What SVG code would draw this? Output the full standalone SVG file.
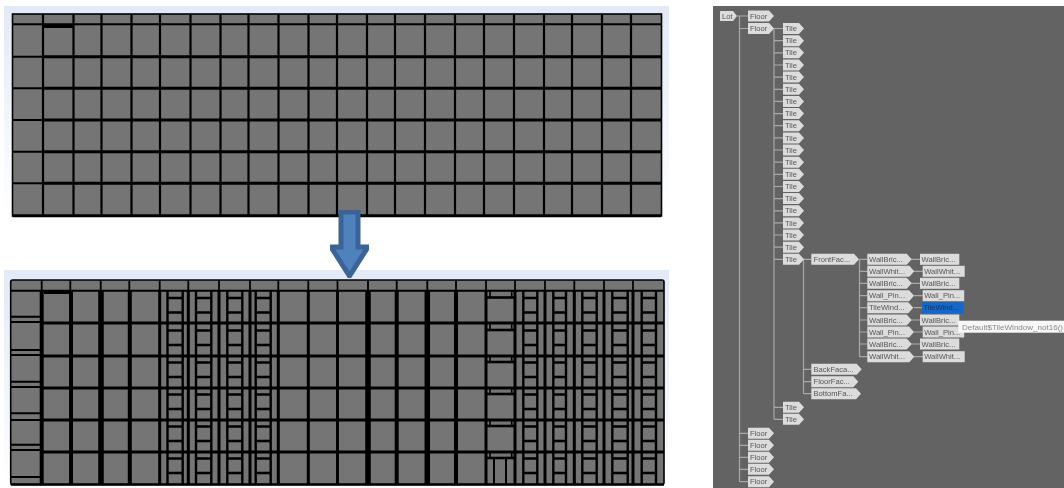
<svg xmlns="http://www.w3.org/2000/svg" width="1064" height="488" viewBox="0 0 1064 488">
<style>
.g{fill:#757575}
.l{fill:none;stroke:#000}
.tag{fill:#dcdcdc}
.t{font:7.6px "Liberation Sans",Arial,sans-serif;fill:#555}
.c{fill:none;stroke:#a8a8a8;stroke-width:1.2}
</style>
<defs>
<linearGradient id="pg" x1="0" y1="0" x2="0" y2="1"><stop offset="0" stop-color="#e2eaf7"/><stop offset="1" stop-color="#fff"/></linearGradient>
<filter id="b5" x="-2%" y="-2%" width="104%" height="104%"><feGaussianBlur stdDeviation="0.6"/></filter>
<filter id="b3" x="-2%" y="-2%" width="104%" height="104%"><feGaussianBlur stdDeviation="0.4"/></filter>
<path id="wr" class="l" stroke-width="2.4" d="M167 7.5h16M167 22h16M196 7.5h15M196 22h15M227 7.5h15M227 22h15M255.5 7.5h15M255.5 22h15M523 7.5h14M523 22h14M553 7.5h13M553 22h13M582 7.5h15M582 22h15M612 7.5h16M612 22h16M641.5 7.5h14.5M641.5 22h14.5"/>
<path id="dr" class="l" stroke-width="1.6" d="M490 0v6M511.7 0v6"/>
<path id="dr2" class="l" stroke-width="2.6" d="M487 7h28"/>
</defs>
<rect width="1064" height="488" fill="#fff"/>
<rect x="4" y="6" width="665" height="210" fill="url(#pg)"/>
<rect x="4" y="270" width="665" height="216" fill="url(#pg)"/>
<g id="grid-top" filter="url(#b5)">
<rect class="g" x="12.5" y="14" width="649" height="202"/>
<path class="l" stroke-width="2.2" d="M43 14V216M73.5 14V216M101.5 14V216M131.5 14V216M160 14V216M190.5 14V216M220.5 14V216M248.5 14V216M278.5 14V216M308.5 14V216M337 14V216M367 14V216M395 14V216M425 14V216M455 14V216M484 14V216M514 14V216M544 14V216M572 14V216M602 14V216M631 14V216"/>
<path class="l" stroke-width="2" d="M12.5 24.3H661M12.5 56.7H43M12.5 88.3H43M12.5 120H43M12.5 151.7H43M12.5 183.3H43"/>
<path class="l" stroke-width="3" d="M43 56.7H661M43 88.3H661M43 120H661M43 151.7H661M43 183.3H661M43 26.5H73"/>
<rect class="l" x="12.5" y="14" width="649" height="202" stroke-width="1.6"/>
<path class="l" stroke-width="3" d="M12.5 215.7H661"/>
</g>
<g id="grid-bottom" filter="url(#b5)">
<rect class="g" x="10.7" y="280" width="653.3" height="204.5" rx="2"/>
<path class="l" stroke-width="1.8" d="M41.7 280V291M70.3 280V291M100.7 280V291M129.3 280V291M159.7 280V291M188.3 280V291M219 280V291M250 280V291M278.3 280V291M308.3 280V291M337.5 280V291M368 280V291M396.7 280V291M427.3 280V291M456 280V291M486 280V291M515 280V291M545 280V291M574.3 280V291M604 280V291M633 280V291"/>
<path class="l" stroke-width="2" d="M10.7 290.7H664"/>
<path class="l" stroke-width="3.2" d="M41.7 323H664M41.7 356H664M41.7 388H664M41.7 420H664M41.7 452H664"/>
<path class="l" stroke-width="2" d="M10.7 322H42M10.7 355H42M10.7 387H42M10.7 420H42M10.7 450H42M10.7 316.7H42M10.7 350H42M10.7 381.7H42M10.7 413.3H42M10.7 444.7H42M10.7 477H42"/>
<path class="l" stroke-width="4" d="M41.7 290V484M71 290V484M129.8 290V484M396.7 290V484M456 290V484"/>
<path class="l" stroke-width="5.5" d="M101 290V484M368 290V484M427.3 290V484"/>
<path class="l" stroke-width="3" d="M159.7 290V484M188.3 290V484M219 290V484M250 290V484M278.3 290V484M308.3 290V484M337.5 290V484M486 290V484M515 290V484M545 290V484M574.3 290V484M604 290V484M633 290V484"/>
<path class="l" stroke-width="2.4" d="M167.5 290V484M182.7 290V484M196 290V484M211.3 290V484M227.3 290V484M242.3 290V484M255.7 290V484M270.7 290V484M523.3 290V484M537.3 290V484M553.3 290V484M566 290V484M582.3 290V484M596.7 290V484M612.3 290V484M627.7 290V484M641.7 290V484M656 290V484"/>
<use href="#wr" y="290.5"/><use href="#wr" y="323"/><use href="#wr" y="355"/><use href="#wr" y="387"/><use href="#wr" y="419"/><use href="#wr" y="451"/>
<use href="#dr" y="291"/><use href="#dr" y="324"/><use href="#dr" y="356"/><use href="#dr" y="388"/><use href="#dr" y="420"/><use href="#dr" y="452"/>
<use href="#dr2" y="290.5"/><use href="#dr2" y="323"/><use href="#dr2" y="355"/><use href="#dr2" y="387"/><use href="#dr2" y="419"/><use href="#dr2" y="451"/>
<path class="l" stroke-width="2" d="M494 459V484M506 459V484"/>
<path class="l" stroke-width="3" d="M44 292.5H70"/>
<rect class="l" x="10.7" y="280" width="653.3" height="204.5" rx="2" stroke-width="1.6"/>
<path class="l" stroke-width="2.6" d="M10.7 484.5H664"/>
</g>
<g id="arrow" filter="url(#b3)"><polygon points="341,212 358,212 358,247 368,247 349.5,276 331,247 341,247" fill="#4f81bd" stroke="#3b6497" stroke-width="5" stroke-linejoin="miter"/></g>
<rect x="713" y="6" width="351" height="482" fill="#636363"/>
<g filter="url(#b3)">
<g id="connectors">
<path class="c" d="M737 16h11M739.5 16V481.7M739.5 28.5H748M739.5 433.3H748M739.5 445.3H748M739.5 457.3H748M739.5 469.3H748M739.5 481.7H748"/>
<path class="c" d="M774 28.5V419.3M774 28.5h9M774 40.7h9M774 52.8h9M774 65h9M774 77.1h9M774 89.3h9M774 101.4h9M774 113.6h9M774 125.7h9M774 137.9h9M774 150h9M774 162.2h9M774 174.3h9M774 186.5h9M774 198.6h9M774 210.8h9M774 222.9h9M774 235h9M774 247.2h9M774 259.3h9M774 407.3h9M774 419.3h9"/>
<path class="c" d="M803.5 259.3h8M803.5 259.3V393.7M803.5 369.3h8M803.5 381.7h8M803.5 393.7h8"/>
<path class="c" d="M859.5 259.3h8M859.5 259.3V356.7M859.5 271.3h8M859.5 283.3h8M859.5 295.7h8M859.5 307.7h8M859.5 320h8M859.5 332h8M859.5 344h8M859.5 356.7h8"/>
<path class="c" d="M911 259.3h9M914 271.3h9M911 283.3h9M914 295.7h9M914 307.7h9M911 320h9M914 332h9M911 344h9M914 356.7h9"/>
</g>
<g id="lot"><path class="tag" d="M720 11h13l4 5l-4 5h-13z"/><text class="t" x="722" y="18.6">Lot</text></g>
<g id="floor1"><path class="tag" d="M748 10.5h21l5 5.5l-5 5.5h-21z"/><text class="t" x="750" y="18.6">Floor</text></g>
<g id="floor2"><path class="tag" d="M748 23h21l5 5.5l-5 5.5h-21z"/><text class="t" x="750" y="31.1">Floor</text></g>
<g id="floor3"><path class="tag" d="M748 427.8h21l5 5.5l-5 5.5h-21z"/><text class="t" x="750" y="435.9">Floor</text></g>
<g id="floor4"><path class="tag" d="M748 439.8h21l5 5.5l-5 5.5h-21z"/><text class="t" x="750" y="447.9">Floor</text></g>
<g id="floor5"><path class="tag" d="M748 451.8h21l5 5.5l-5 5.5h-21z"/><text class="t" x="750" y="459.9">Floor</text></g>
<g id="floor6"><path class="tag" d="M748 463.8h21l5 5.5l-5 5.5h-21z"/><text class="t" x="750" y="471.9">Floor</text></g>
<g id="floor7"><path class="tag" d="M748 476.2h21l5 5.5l-5 5.5h-21z"/><text class="t" x="750" y="484.3">Floor</text></g>
<g id="tile1"><path class="tag" d="M783 23h16l5 5.5l-5 5.5h-16z"/><text class="t" x="785" y="31.1">Tile</text></g>
<g id="tile2"><path class="tag" d="M783 35.2h16l5 5.5l-5 5.5h-16z"/><text class="t" x="785" y="43.3">Tile</text></g>
<g id="tile3"><path class="tag" d="M783 47.3h16l5 5.5l-5 5.5h-16z"/><text class="t" x="785" y="55.4">Tile</text></g>
<g id="tile4"><path class="tag" d="M783 59.5h16l5 5.5l-5 5.5h-16z"/><text class="t" x="785" y="67.6">Tile</text></g>
<g id="tile5"><path class="tag" d="M783 71.6h16l5 5.5l-5 5.5h-16z"/><text class="t" x="785" y="79.7">Tile</text></g>
<g id="tile6"><path class="tag" d="M783 83.8h16l5 5.5l-5 5.5h-16z"/><text class="t" x="785" y="91.9">Tile</text></g>
<g id="tile7"><path class="tag" d="M783 95.9h16l5 5.5l-5 5.5h-16z"/><text class="t" x="785" y="104">Tile</text></g>
<g id="tile8"><path class="tag" d="M783 108.1h16l5 5.5l-5 5.5h-16z"/><text class="t" x="785" y="116.2">Tile</text></g>
<g id="tile9"><path class="tag" d="M783 120.2h16l5 5.5l-5 5.5h-16z"/><text class="t" x="785" y="128.3">Tile</text></g>
<g id="tile10"><path class="tag" d="M783 132.4h16l5 5.5l-5 5.5h-16z"/><text class="t" x="785" y="140.5">Tile</text></g>
<g id="tile11"><path class="tag" d="M783 144.5h16l5 5.5l-5 5.5h-16z"/><text class="t" x="785" y="152.6">Tile</text></g>
<g id="tile12"><path class="tag" d="M783 156.7h16l5 5.5l-5 5.5h-16z"/><text class="t" x="785" y="164.8">Tile</text></g>
<g id="tile13"><path class="tag" d="M783 168.8h16l5 5.5l-5 5.5h-16z"/><text class="t" x="785" y="176.9">Tile</text></g>
<g id="tile14"><path class="tag" d="M783 181h16l5 5.5l-5 5.5h-16z"/><text class="t" x="785" y="189.1">Tile</text></g>
<g id="tile15"><path class="tag" d="M783 193.1h16l5 5.5l-5 5.5h-16z"/><text class="t" x="785" y="201.2">Tile</text></g>
<g id="tile16"><path class="tag" d="M783 205.3h16l5 5.5l-5 5.5h-16z"/><text class="t" x="785" y="213.4">Tile</text></g>
<g id="tile17"><path class="tag" d="M783 217.4h16l5 5.5l-5 5.5h-16z"/><text class="t" x="785" y="225.5">Tile</text></g>
<g id="tile18"><path class="tag" d="M783 229.5h16l5 5.5l-5 5.5h-16z"/><text class="t" x="785" y="237.6">Tile</text></g>
<g id="tile19"><path class="tag" d="M783 241.7h16l5 5.5l-5 5.5h-16z"/><text class="t" x="785" y="249.8">Tile</text></g>
<g id="tile20"><path class="tag" d="M783 253.8h16l5 5.5l-5 5.5h-16z"/><text class="t" x="785" y="261.9">Tile</text></g>
<g id="tile21"><path class="tag" d="M783 401.8h16l5 5.5l-5 5.5h-16z"/><text class="t" x="785" y="409.9">Tile</text></g>
<g id="tile22"><path class="tag" d="M783 413.8h16l5 5.5l-5 5.5h-16z"/><text class="t" x="785" y="421.9">Tile</text></g>
<g id="front"><path class="tag" d="M811.3 253.8h42.7l5 5.5l-5 5.5h-42.7z"/><text class="t" x="813.5" y="261.9">FrontFac...</text></g>
<g id="back"><path class="tag" d="M811.3 363.8h45.4l5 5.5l-5 5.5h-45.4z"/><text class="t" x="813.5" y="371.9">BackFaca...</text></g>
<g id="floorfac"><path class="tag" d="M811.3 376.2h42l5 5.5l-5 5.5h-42z"/><text class="t" x="813.5" y="384.3">FloorFac...</text></g>
<g id="bottom"><path class="tag" d="M811.3 388.2h44.7l5 5.5l-5 5.5h-44.7z"/><text class="t" x="813.5" y="396.3">BottomFa...</text></g>
<g id="w1"><path class="tag" d="M867.3 253.8h39.4l5 5.5l-5 5.5h-39.4z"/><text class="t" x="869" y="261.9">WallBric...</text></g>
<g id="w2"><path class="tag" d="M867.3 265.8h42l5 5.5l-5 5.5h-42z"/><text class="t" x="869" y="273.9">WallWhit...</text></g>
<g id="w3"><path class="tag" d="M867.3 277.8h39.4l5 5.5l-5 5.5h-39.4z"/><text class="t" x="869" y="285.9">WallBric...</text></g>
<g id="w4"><path class="tag" d="M867.3 290.2h41.7l5 5.5l-5 5.5h-41.7z"/><text class="t" x="869" y="298.3">Wall_Pin...</text></g>
<g id="w5"><path class="tag" d="M867.3 302.2h41l5 5.5l-5 5.5h-41z"/><text class="t" x="869" y="310.3">TileWind...</text></g>
<g id="w6"><path class="tag" d="M867.3 314.5h39.4l5 5.5l-5 5.5h-39.4z"/><text class="t" x="869" y="322.6">WallBric...</text></g>
<g id="w7"><path class="tag" d="M867.3 326.5h41.7l5 5.5l-5 5.5h-41.7z"/><text class="t" x="869" y="334.6">Wall_Pin...</text></g>
<g id="w8"><path class="tag" d="M867.3 338.5h39.4l5 5.5l-5 5.5h-39.4z"/><text class="t" x="869" y="346.6">WallBric...</text></g>
<g id="w9"><path class="tag" d="M867.3 351.2h42l5 5.5l-5 5.5h-42z"/><text class="t" x="869" y="359.3">WallWhit...</text></g>
<g id="x1"><rect class="tag" x="920" y="253.8" width="39.3" height="11"/><text class="t" x="921.5" y="261.9">WallBric...</text></g>
<g id="x2"><rect class="tag" x="922.7" y="265.8" width="42" height="11"/><text class="t" x="924.2" y="273.9">WallWhit...</text></g>
<g id="x3"><rect class="tag" x="920" y="277.8" width="39.3" height="11"/><text class="t" x="921.5" y="285.9">WallBric...</text></g>
<g id="x4"><rect class="tag" x="922.7" y="290.2" width="41.5" height="11"/><text class="t" x="924.2" y="298.3">Wall_Pin...</text></g>
<g id="x5"><rect x="922" y="302.2" width="41.3" height="11" fill="#1268c8"/><text class="t" style="fill:#16345c" x="923.5" y="310.3">TileWind...</text></g>
<g id="x6"><rect class="tag" x="920" y="314.5" width="39.3" height="11"/><text class="t" x="921.5" y="322.6">WallBric...</text></g>
<g id="x7"><rect class="tag" x="922.7" y="326.5" width="41.5" height="11"/><text class="t" x="924.2" y="334.6">Wall_Pin...</text></g>
<g id="x8"><rect class="tag" x="920" y="338.5" width="39.3" height="11"/><text class="t" x="921.5" y="346.6">WallBric...</text></g>
<g id="x9"><rect class="tag" x="922.7" y="351.2" width="42" height="11"/><text class="t" x="924.2" y="359.3">WallWhit...</text></g>
<g id="tooltip"><rect x="958.3" y="320.7" width="105.7" height="12" fill="#f7f7f7"/><text class="t" style="fill:#8a8a8a" x="962" y="329.6" textLength="101" lengthAdjust="spacingAndGlyphs">Default$TileWindow_not16()</text></g>
</g>
</svg>
